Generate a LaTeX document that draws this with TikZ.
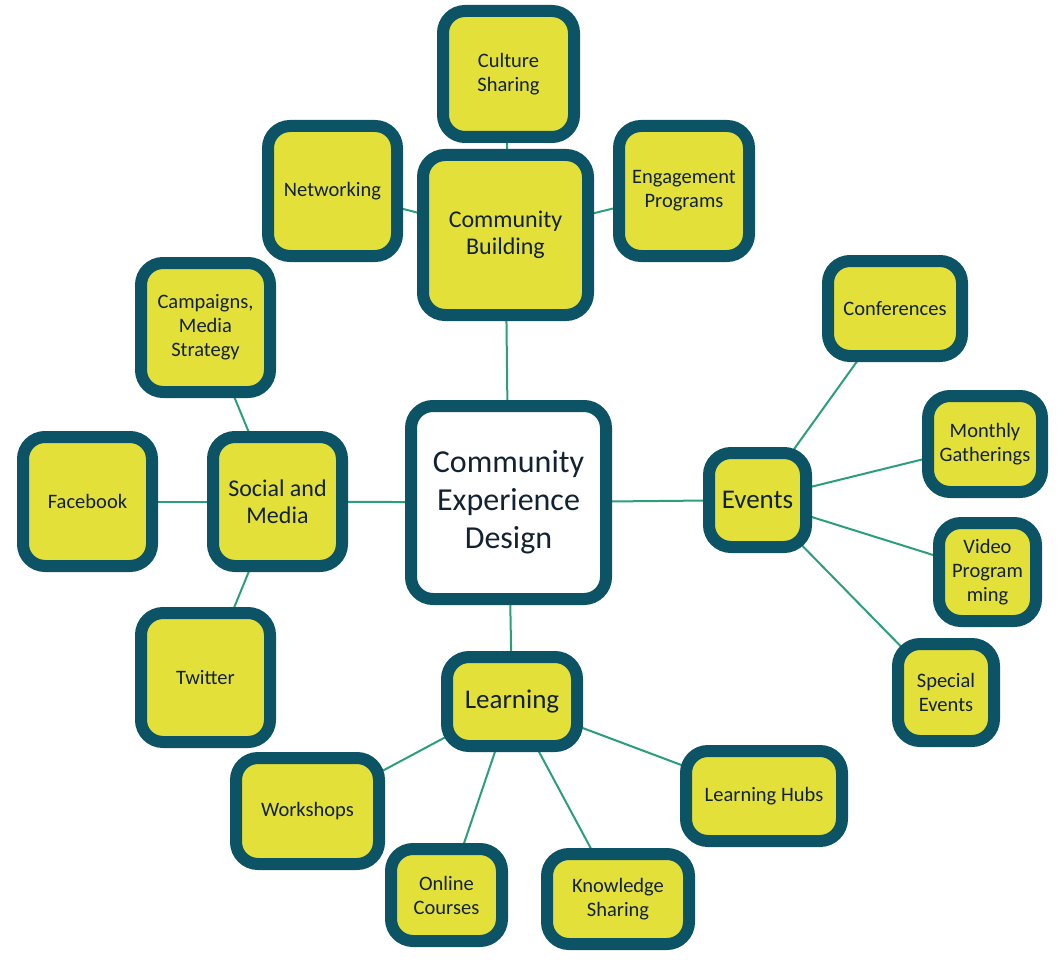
\documentclass[tikz,border=0pt]{standalone}
\usepackage{fontspec}
\setmainfont{Carlito}
\usetikzlibrary{backgrounds}
\definecolor{boxline}{RGB}{11,83,101}
\definecolor{boxfill}{RGB}{227,224,58}
\definecolor{linkline}{RGB}{44,158,124}
\definecolor{boxtext}{RGB}{18,34,50}
\begin{document}
\begin{tikzpicture}[x=1pt,y=-1pt,
    hub/.style={draw=boxline,fill=boxfill,line width=12pt,rounded corners=22pt,
        inner sep=0pt,align=center,text=boxtext},
    leaf/.style={hub,font=\fontsize{20.5}{24}\selectfont},
    link/.style={draw=linkline,line width=2pt}]
    \useasboundingbox (0,0) rectangle (1060,960);
    % centre and main topics
    \node[hub,fill=white,minimum width=195pt,minimum height=193pt,
        font=\fontsize{32}{38}\selectfont] (C) at (508.5,502.5) {Community\\Experience\\Design};
    \node[hub,minimum width=165pt,minimum height=160pt,
        font=\fontsize{24}{27}\selectfont] (B) at (505.5,235) {Community\\Building};
    \node[hub,minimum width=97pt,minimum height=94pt,
        font=\fontsize{27}{30}\selectfont] (E) at (757.5,500) {Events};
    \node[hub,minimum width=130pt,minimum height=89pt,
        font=\fontsize{27}{30}\selectfont] (L) at (512,701.5) {Learning};
    \node[hub,minimum width=129pt,minimum height=129pt,
        font=\fontsize{24}{27}\selectfont] (S) at (277.5,501.5) {Social and\\Media};

    % community building
    \node[leaf,minimum width=131pt,minimum height=126pt] (B1) at (508.5,74) {Culture\\Sharing};
    \node[leaf,minimum width=129pt,minimum height=130pt] (B2) at (332.5,191) {Networking};
    \node[leaf,minimum width=130pt,minimum height=130pt] (B3) at (684,191) {Engagement\\Programs};

    % events
    \node[leaf,minimum width=134pt,minimum height=95pt] (E1) at (895,308.5) {Conferences};
    \node[leaf,minimum width=114pt,minimum height=96pt] (E2) at (985,444) {Monthly\\Gatherings};
    \node[leaf,minimum width=97pt,minimum height=98pt] (E3) at (987.5,572) {Video\\Program\\ming};
    \node[leaf,minimum width=96pt,minimum height=97pt] (E4) at (946,692.5) {Special\\Events};

    % learning
    \node[leaf,minimum width=156pt,minimum height=90pt] (L1) at (764,796) {Learning Hubs};
    \node[leaf,minimum width=142pt,minimum height=90pt] (L2) at (618,899) {Knowledge\\Sharing};
    \node[leaf,minimum width=111pt,minimum height=92pt] (L3) at (446.5,895) {Online\\Courses};
    \node[leaf,minimum width=143pt,minimum height=106pt] (L4) at (307.5,811) {Workshops};

    % social and media
    \node[leaf,minimum width=129pt,minimum height=129pt] (S1) at (205.5,677.5) {Twitter};
    \node[leaf,minimum width=129pt,minimum height=129pt] (S2) at (87.5,501.5) {Facebook};
    \node[leaf,minimum width=129pt,minimum height=129pt] (S3) at (205.5,327.5) {Campaigns,\\Media\\Strategy};

    % links run behind the boxes, centre to centre
    \begin{scope}[on background layer]
    \foreach \n in {B,E,L,S} \draw[link] (C.center) -- (\n.center);
    \foreach \n in {B1,B2,B3} \draw[link] (B.center) -- (\n.center);
    \foreach \n in {E1,E2,E3,E4} \draw[link] (E.center) -- (\n.center);
    \foreach \n in {L1,L2,L3,L4} \draw[link] (L.center) -- (\n.center);
    \foreach \n in {S1,S2,S3} \draw[link] (S.center) -- (\n.center);
    \end{scope}
\end{tikzpicture}
\end{document}
